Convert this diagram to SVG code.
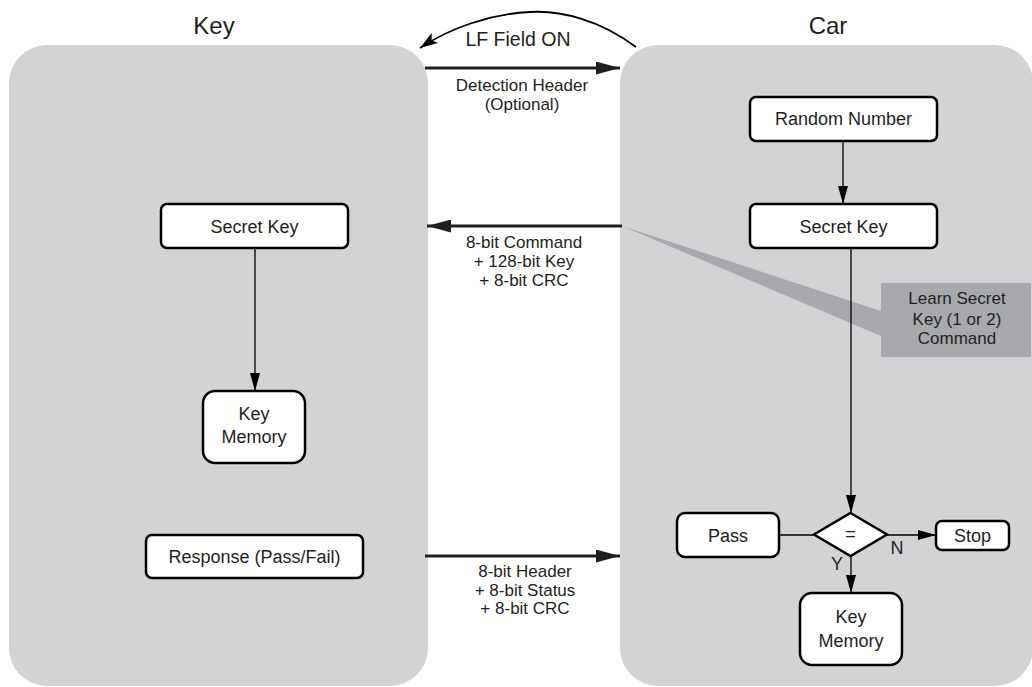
<svg xmlns="http://www.w3.org/2000/svg" width="1032" height="687" viewBox="0 0 1032 687">
<defs>
<marker id="ah" viewBox="0 0 18 10" refX="18" refY="5" markerWidth="18" markerHeight="10" markerUnits="userSpaceOnUse" orient="auto"><path d="M0,0 L18,5 L0,10 Z" fill="#000"/></marker>
<marker id="ahb" viewBox="0 0 24 13" refX="24" refY="6.5" markerWidth="24" markerHeight="13" markerUnits="userSpaceOnUse" orient="auto"><path d="M0,0 L24,6.5 L0,13 Z" fill="#231f20"/></marker>
<marker id="ahc" viewBox="0 0 18 12" refX="18" refY="6" markerWidth="18" markerHeight="12" markerUnits="userSpaceOnUse" orient="auto"><path d="M0,0 L18,6 L0,12 L4,6 Z" fill="#000"/></marker>
</defs>
<style>
text{font-family:"Liberation Sans",Arial,sans-serif;fill:#231f20;text-anchor:middle}
.box{fill:#fff;stroke:#000;stroke-width:2.5}
.bt{font-size:18px}
.lbl{font-size:17px}
.ttl{font-size:24px}
.panel{fill:#d1d3d4}
.thin{stroke:#000;stroke-width:1.3;fill:none}
.thick{stroke:#231f20;stroke-width:3;fill:none}
</style>
<rect width="1032" height="687" fill="#fff"/>
<g id="panel-key"><rect class="panel" x="9" y="45" width="419" height="641" rx="38"/><text class="ttl" x="214" y="34">Key</text></g>
<g id="panel-car"><rect class="panel" x="620" y="45" width="413" height="641" rx="38"/><text class="ttl" x="828" y="34">Car</text></g>
<g id="callout"><polygon points="622,226 881,311 881,336" fill="#a7a9ac"/><rect x="881" y="283" width="150" height="74" fill="#a7a9ac"/><text class="lbl" x="957" y="304">Learn Secret</text><text class="lbl" x="957" y="325">Key (1 or 2)</text><text class="lbl" x="957" y="344">Command</text></g>
<g id="connectors">
<path class="thin" d="M255,248 L255,391" marker-end="url(#ah)"/>
<path class="thin" d="M843,141 L843,204" marker-end="url(#ah)"/>
<path class="thin" d="M851,248 L851,513" marker-end="url(#ah)"/>
<path class="thin" d="M779,535 L814,535"/>
<path class="thin" d="M887,535 L936,535" marker-end="url(#ah)"/>
<path class="thin" d="M851,556 L851,593" marker-end="url(#ah)"/>
<path d="M636,47 C600,20 560,10 530,12 C490,14 450,28 420,48" fill="none" stroke="#000" stroke-width="1.8" marker-end="url(#ahc)"/>
<path class="thick" d="M425,68 L620,68" marker-end="url(#ahb)"/>
<path class="thick" d="M622,226 L427,226" marker-end="url(#ahb)"/>
<path class="thick" d="M425,556 L620,556" marker-end="url(#ahb)"/>
<text x="518" y="46" style="font-size:19.5px">LF Field ON</text>
<text class="lbl" x="522" y="91">Detection Header</text><text class="lbl" x="522" y="110">(Optional)</text>
<text class="lbl" x="524" y="248">8-bit Command</text><text class="lbl" x="524" y="267">+ 128-bit Key</text><text class="lbl" x="524" y="286">+ 8-bit CRC</text>
<text class="lbl" x="525" y="577">8-bit Header</text><text class="lbl" x="525" y="596">+ 8-bit Status</text><text class="lbl" x="525" y="614">+ 8-bit CRC</text>
<text class="bt" x="897" y="554">N</text><text class="bt" x="837" y="570">Y</text>
</g>
<g id="key-secret"><rect class="box" x="161" y="204" width="187" height="44" rx="6"/><text class="bt" x="254.5" y="233">Secret Key</text></g>
<g id="key-memory"><rect class="box" x="203" y="391" width="102" height="72" rx="12"/><text class="bt" x="254" y="420">Key</text><text class="bt" x="254" y="443">Memory</text></g>
<g id="key-response"><rect class="box" x="146" y="535" width="217" height="43" rx="6"/><text class="bt" x="254.5" y="563">Response (Pass/Fail)</text></g>
<g id="car-random"><rect class="box" x="750" y="97" width="187" height="44" rx="6"/><text class="bt" x="843.5" y="125">Random Number</text></g>
<g id="car-secret"><rect class="box" x="750" y="204" width="187" height="44" rx="6"/><text class="bt" x="843.5" y="233">Secret Key</text></g>
<g id="car-compare"><polygon class="box" points="850.5,513 887,534.5 850.5,556 814,534.5"/><text class="bt" x="850.5" y="540">=</text></g>
<g id="car-pass"><rect class="box" x="677" y="513" width="102" height="44" rx="8"/><text class="bt" x="728" y="542">Pass</text></g>
<g id="car-stop"><rect class="box" x="936" y="521" width="73" height="29" rx="6"/><text class="bt" x="972.5" y="542">Stop</text></g>
<g id="car-memory"><rect class="box" x="800" y="593" width="102" height="72" rx="12"/><text class="bt" x="851" y="623">Key</text><text class="bt" x="851" y="647">Memory</text></g>
</svg>
